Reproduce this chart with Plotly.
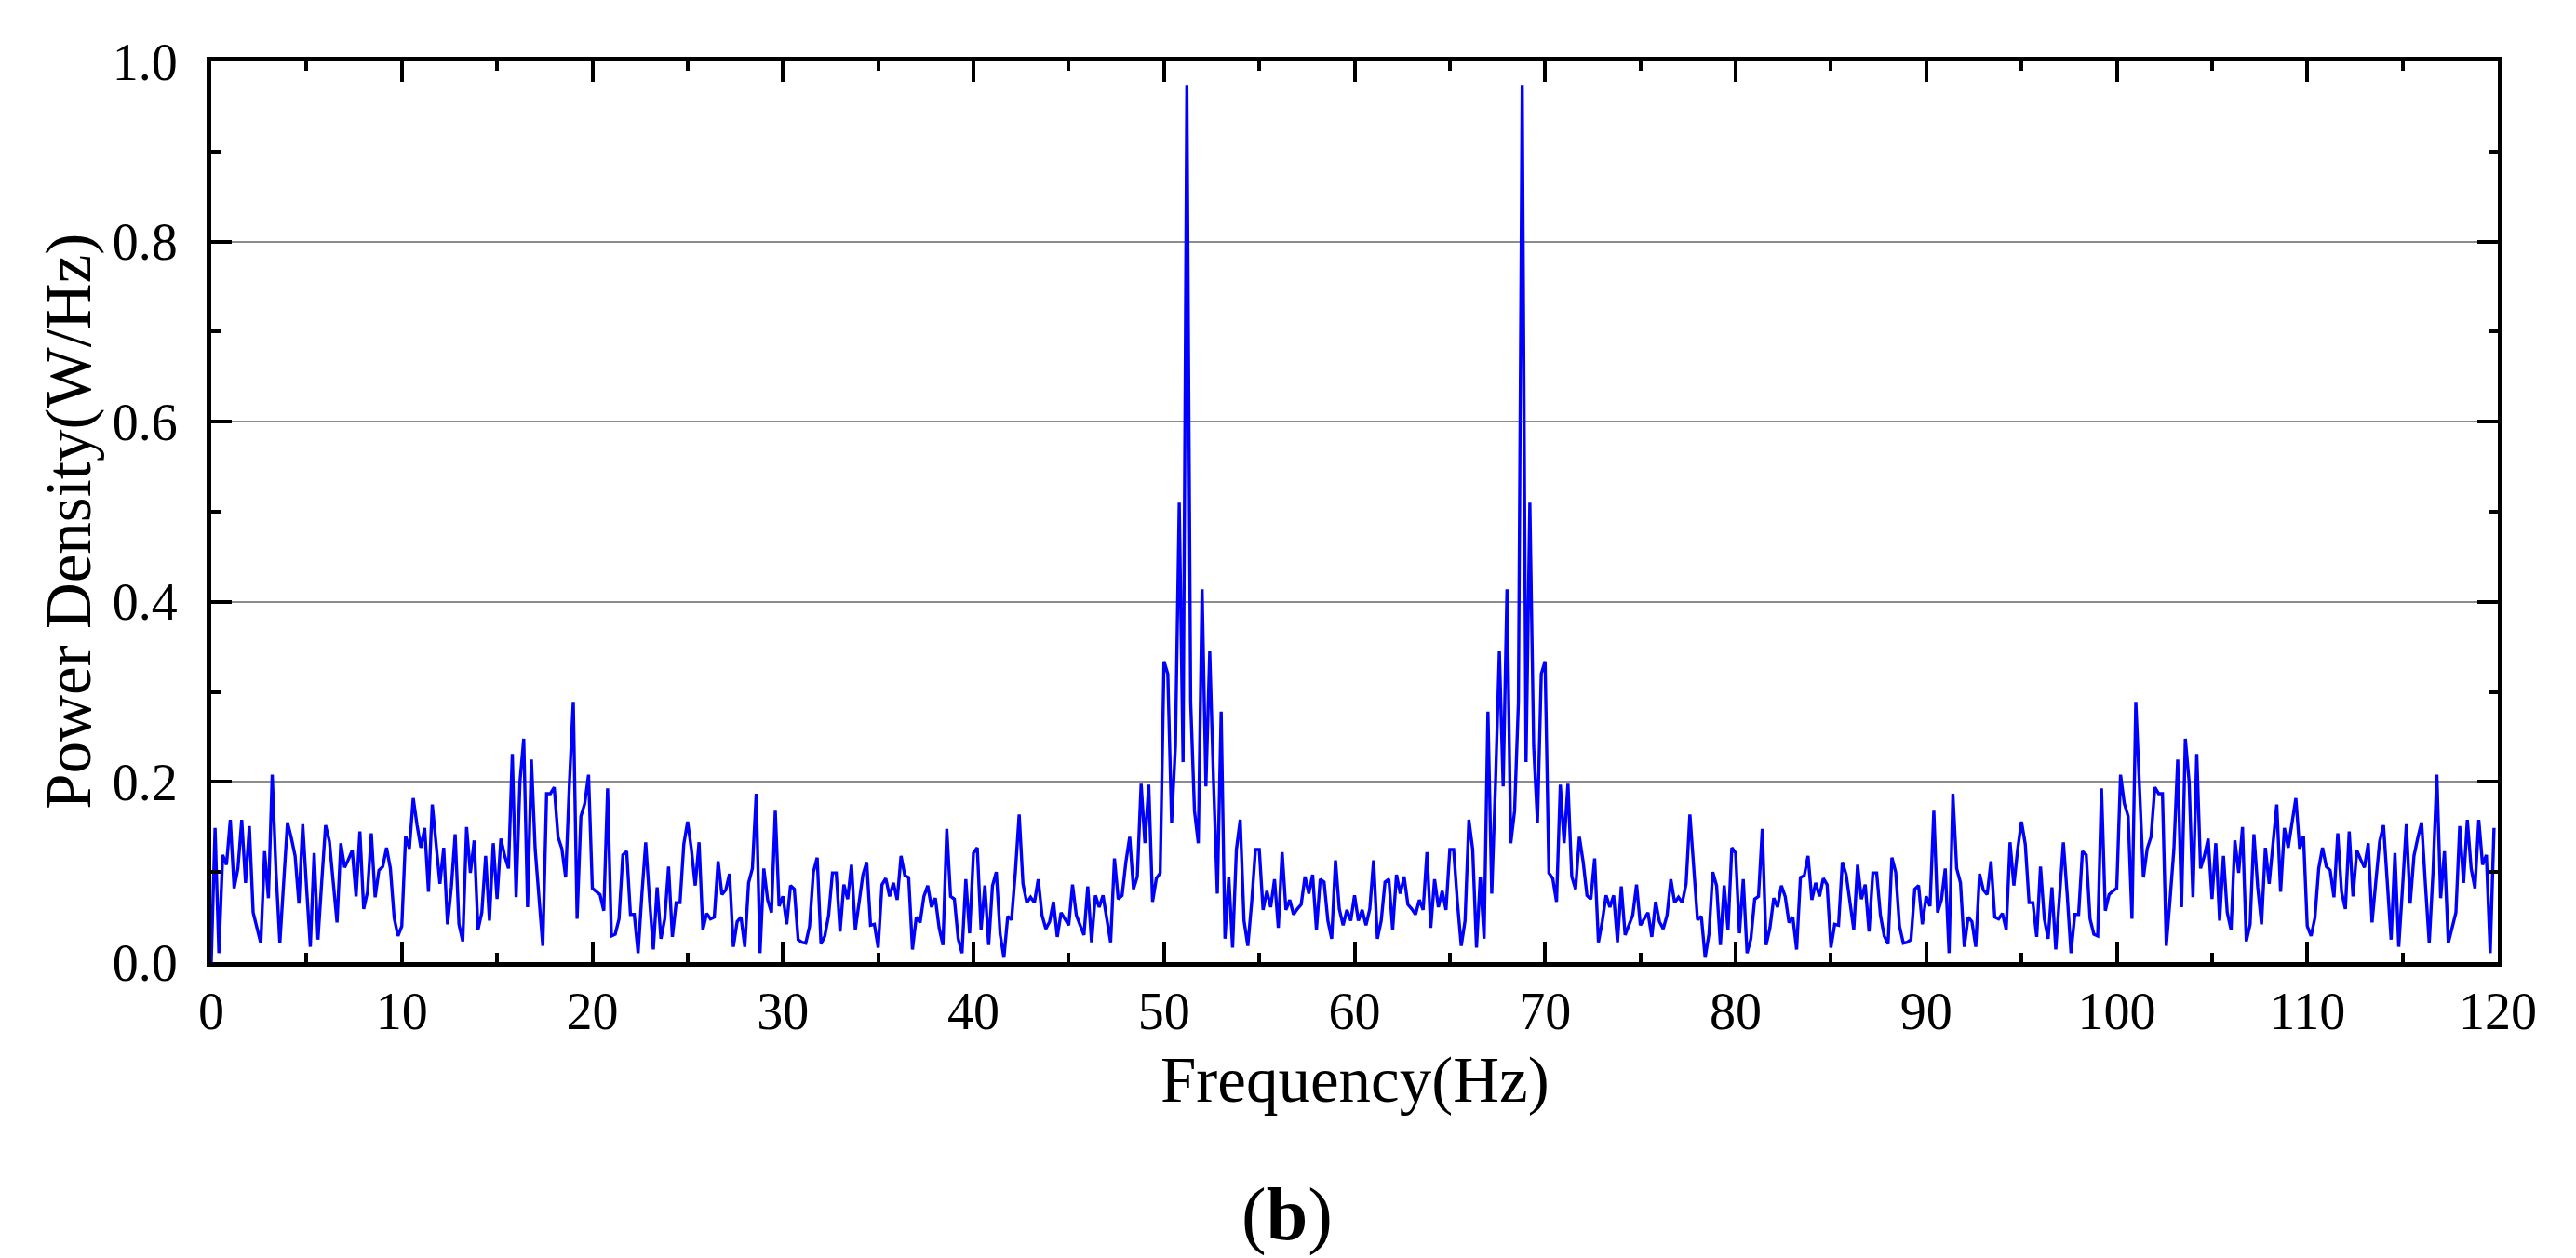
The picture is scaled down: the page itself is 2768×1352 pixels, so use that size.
import plotly.graph_objects as go

# Frequency grid step (Hz) and number of FFT bins shown (0 ... 119.8 Hz)
freq_step = 0.2

# Power density, bins 0 .. 300 (0 Hz .. 60 Hz)
power_left = [
    0.000, 0.149, 0.010, 0.119, 0.108, 0.158, 0.082, 0.104, 0.158, 0.088,
    0.151, 0.055, 0.038, 0.021, 0.123, 0.071, 0.208, 0.100, 0.021, 0.086,
    0.155, 0.138, 0.118, 0.065, 0.153, 0.083, 0.017, 0.121, 0.025, 0.090,
    0.152, 0.134, 0.090, 0.044, 0.132, 0.105, 0.114, 0.124, 0.073, 0.145,
    0.059, 0.078, 0.143, 0.072, 0.102, 0.106, 0.127, 0.104, 0.049, 0.029,
    0.040, 0.140, 0.126, 0.182, 0.152, 0.127, 0.149, 0.078, 0.175, 0.131,
    0.087, 0.127, 0.042, 0.083, 0.142, 0.042, 0.023, 0.150, 0.099, 0.135,
    0.036, 0.055, 0.118, 0.046, 0.132, 0.070, 0.137, 0.118, 0.104, 0.231,
    0.072, 0.200, 0.248, 0.061, 0.225, 0.125, 0.070, 0.018, 0.187, 0.187,
    0.194, 0.139, 0.126, 0.094, 0.200, 0.289, 0.048, 0.162, 0.176, 0.208,
    0.082, 0.079, 0.075, 0.057, 0.193, 0.029, 0.031, 0.048, 0.119, 0.123,
    0.053, 0.053, 0.010, 0.075, 0.133, 0.070, 0.014, 0.083, 0.026, 0.048,
    0.106, 0.028, 0.066, 0.066, 0.131, 0.156, 0.125, 0.085, 0.133, 0.036,
    0.054, 0.048, 0.050, 0.112, 0.075, 0.080, 0.098, 0.017, 0.045, 0.050,
    0.017, 0.088, 0.104, 0.187, 0.010, 0.104, 0.069, 0.055, 0.168, 0.062,
    0.073, 0.042, 0.085, 0.081, 0.025, 0.022, 0.021, 0.040, 0.100, 0.116,
    0.020, 0.029, 0.052, 0.099, 0.099, 0.034, 0.086, 0.070, 0.108, 0.036,
    0.066, 0.097, 0.111, 0.041, 0.042, 0.016, 0.086, 0.093, 0.073, 0.088,
    0.069, 0.118, 0.096, 0.094, 0.014, 0.050, 0.044, 0.073, 0.085, 0.061,
    0.071, 0.038, 0.019, 0.148, 0.073, 0.070, 0.026, 0.010, 0.092, 0.032,
    0.121, 0.127, 0.036, 0.085, 0.019, 0.085, 0.100, 0.031, 0.005, 0.051,
    0.047, 0.100, 0.164, 0.087, 0.066, 0.072, 0.066, 0.092, 0.052, 0.037,
    0.045, 0.067, 0.028, 0.055, 0.048, 0.041, 0.086, 0.052, 0.041, 0.030,
    0.084, 0.022, 0.074, 0.061, 0.074, 0.045, 0.022, 0.115, 0.070, 0.074,
    0.111, 0.139, 0.081, 0.095, 0.198, 0.132, 0.197, 0.067, 0.093, 0.099,
    0.334, 0.320, 0.155, 0.240, 0.510, 0.222, 0.974, 0.289, 0.168, 0.132,
    0.414, 0.195, 0.345, 0.200, 0.076, 0.278, 0.026, 0.095, 0.016, 0.125,
    0.158, 0.046, 0.018, 0.066, 0.125, 0.125, 0.058, 0.079, 0.061, 0.092,
    0.038, 0.122, 0.058, 0.069, 0.053, 0.059, 0.064, 0.095, 0.076, 0.097,
    0.036, 0.092, 0.089, 0.046, 0.026, 0.113, 0.059, 0.041, 0.058, 0.046,
    0.074,
]

# Power density, bins 301 .. 599 (60.2 Hz .. 119.8 Hz)
power_right = [
    0.046, 0.058, 0.041, 0.059, 0.113, 0.026, 0.046, 0.089, 0.092, 0.036,
    0.097, 0.076, 0.095, 0.064, 0.059, 0.053, 0.069, 0.058, 0.122, 0.038,
    0.092, 0.061, 0.079, 0.058, 0.125, 0.125, 0.066, 0.018, 0.046, 0.158,
    0.125, 0.016, 0.095, 0.026, 0.278, 0.076, 0.200, 0.345, 0.195, 0.414,
    0.132, 0.168, 0.289, 0.974, 0.222, 0.510, 0.240, 0.155, 0.320, 0.334,
    0.099, 0.093, 0.067, 0.197, 0.132, 0.198, 0.095, 0.081, 0.139, 0.111,
    0.074, 0.070, 0.115, 0.022, 0.045, 0.074, 0.061, 0.074, 0.022, 0.084,
    0.030, 0.041, 0.052, 0.086, 0.041, 0.048, 0.055, 0.028, 0.067, 0.045,
    0.037, 0.052, 0.092, 0.066, 0.072, 0.066, 0.087, 0.164, 0.100, 0.047,
    0.051, 0.005, 0.031, 0.100, 0.085, 0.019, 0.085, 0.036, 0.127, 0.121,
    0.032, 0.092, 0.010, 0.026, 0.070, 0.073, 0.148, 0.019, 0.038, 0.071,
    0.061, 0.085, 0.073, 0.044, 0.050, 0.014, 0.094, 0.096, 0.118, 0.069,
    0.088, 0.073, 0.093, 0.086, 0.016, 0.042, 0.041, 0.111, 0.097, 0.066,
    0.036, 0.108, 0.070, 0.086, 0.034, 0.099, 0.099, 0.052, 0.029, 0.020,
    0.116, 0.100, 0.040, 0.021, 0.022, 0.025, 0.081, 0.085, 0.042, 0.073,
    0.062, 0.168, 0.055, 0.069, 0.104, 0.010, 0.187, 0.104, 0.088, 0.017,
    0.050, 0.045, 0.017, 0.098, 0.080, 0.075, 0.112, 0.050, 0.048, 0.054,
    0.036, 0.133, 0.085, 0.125, 0.156, 0.131, 0.066, 0.066, 0.028, 0.106,
    0.048, 0.026, 0.083, 0.014, 0.070, 0.133, 0.075, 0.010, 0.053, 0.053,
    0.123, 0.119, 0.048, 0.031, 0.029, 0.193, 0.057, 0.075, 0.079, 0.082,
    0.208, 0.176, 0.162, 0.048, 0.289, 0.200, 0.094, 0.126, 0.139, 0.194,
    0.187, 0.187, 0.018, 0.070, 0.125, 0.225, 0.061, 0.248, 0.200, 0.072,
    0.231, 0.104, 0.118, 0.137, 0.070, 0.132, 0.046, 0.118, 0.055, 0.036,
    0.135, 0.099, 0.150, 0.023, 0.042, 0.142, 0.083, 0.042, 0.127, 0.087,
    0.131, 0.175, 0.078, 0.149, 0.127, 0.152, 0.182, 0.126, 0.140, 0.040,
    0.029, 0.049, 0.104, 0.127, 0.106, 0.102, 0.072, 0.143, 0.078, 0.059,
    0.145, 0.073, 0.124, 0.114, 0.105, 0.132, 0.044, 0.090, 0.134, 0.152,
    0.090, 0.025, 0.121, 0.017, 0.083, 0.153, 0.065, 0.118, 0.138, 0.155,
    0.086, 0.021, 0.100, 0.208, 0.071, 0.123, 0.021, 0.038, 0.055, 0.151,
    0.088, 0.158, 0.104, 0.082, 0.158, 0.108, 0.119, 0.010, 0.149,
]

x_tick_values = [0, 10, 20, 30, 40, 50, 60, 70, 80, 90, 100, 110, 120]
y_tick_values = [0.0, 0.2, 0.4, 0.6, 0.8, 1.0]

x_title = "Frequency(Hz)"
y_title = "Power Density(W/Hz)"
panel_label = "(<b>b</b>)"

power = power_left + power_right
freq = [round(i * freq_step, 1) for i in range(len(power))]

FONT = "Liberation Serif, Times New Roman, serif"

fig = go.Figure()
fig.add_trace(go.Scatter(
    x=freq, y=power, mode="lines",
    line=dict(color="#0000FF", width=3.4),
    showlegend=False, hoverinfo="x+y",
))

axis_common = dict(
    showline=True, linecolor="black", linewidth=5, mirror="ticks",
    ticks="inside", ticklen=22, tickwidth=4, tickcolor="black",
    zeroline=False,
    tickfont=dict(family=FONT, size=56, color="black"),
)

fig.update_xaxes(
    **axis_common,
    range=[0, 120], tickvals=x_tick_values,
    showgrid=False,
    minor=dict(dtick=5, ticks="inside", ticklen=10, tickwidth=4, tickcolor="black", showgrid=False),
    ticklabelstandoff=0,
)
fig.update_yaxes(
    **axis_common,
    range=[0, 1.0], tickvals=y_tick_values, tickformat=".1f",
    showgrid=True, gridcolor="#8c8c8c", gridwidth=2,
    minor=dict(dtick=0.1, ticks="inside", ticklen=10, tickwidth=4, tickcolor="black", showgrid=False),
    ticklabelstandoff=20,
)

fig.update_layout(
    width=2768, height=1352,
    margin=dict(l=226.5, r=84, t=65.5, b=318, pad=0),
    paper_bgcolor="white", plot_bgcolor="white",
    font=dict(family=FONT, color="black"),
    annotations=[
        dict(text=x_title, xref="paper", yref="paper", x=0.5, y=-0.131,
             xanchor="center", yanchor="middle", showarrow=False,
             font=dict(family=FONT, size=69, color="black")),
        dict(text=y_title, xref="paper", yref="paper", x=-0.0621, y=0.4894,
             xanchor="center", yanchor="middle", textangle=-90, showarrow=False,
             font=dict(family=FONT, size=69, color="black")),
        dict(text=panel_label, xref="paper", yref="paper", x=0.4703, y=-0.28,
             xanchor="center", yanchor="middle", showarrow=False,
             font=dict(family=FONT, size=80, color="black")),
    ],
)

# Remove the default page margin so the figure sits at the window's top-left corner
fig.write_html(
    "out.html",
    config={"displayModeBar": False},
    post_script="document.body.style.margin='0px';",
)
